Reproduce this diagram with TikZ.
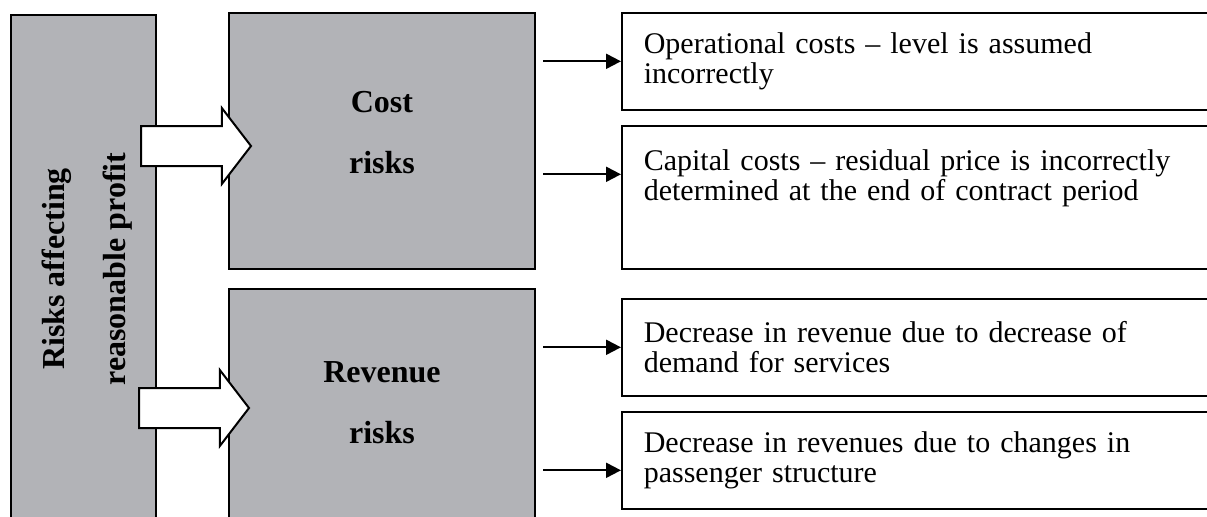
\documentclass[tikz,border=0pt]{standalone}
\usepackage{fontspec}
\setmainfont{Liberation Serif}
\usetikzlibrary{positioning,shapes.arrows,arrows.meta}
\definecolor{riskgray}{RGB}{178,179,183}

\tikzset{
  riskbox/.style={rectangle,draw,line width=1pt,fill=riskgray,anchor=north west,inner sep=0pt},
  risktext/.style={align=center,inner sep=0pt,font=\fontsize{16}{30.5}\selectfont\bfseries},
  effect/.style={rectangle,draw,line width=0.8pt,anchor=north west,align=left,text width=282pt,inner xsep=11pt,inner ysep=0pt,font=\fontsize{15}{15}\selectfont},
  bigarrow/.style={single arrow,draw,line width=1pt,fill=white,anchor=tail,minimum height=55pt,minimum width=0pt,single arrow head extend=9pt,single arrow tip angle=105,inner xsep=0pt,inner ysep=9.5pt},
  link/.style={-{Triangle[length=7.5pt,width=7.5pt]},line width=1pt}
}

\begin{document}
\begin{tikzpicture}[x=0.5pt,y=-0.5pt]
\useasboundingbox (0,0) rectangle (1207,516);
% risk groups
\node [riskbox,minimum width=72.5pt,minimum height=254pt] (risks) at (10,14) {};
\node [risktext,rotate=90] (risklabel) at ([xshift=1.75pt]risks.center) {Risks affecting\\reasonable profit};
\node [riskbox,minimum width=153pt,minimum height=128pt] (cost) at (228,12) {};
\node [risktext] (costlabel) at ([yshift=4pt]cost.center) {Cost\\risks};
\node [riskbox,minimum width=153pt,minimum height=116pt] (revenue) at (228,288) {};
\node [risktext] (revlabel) at ([yshift=1pt]revenue.center) {Revenue\\risks};
\node [bigarrow] (costarrow) at (140,146) {};
\node [bigarrow] (revarrow) at (138,408) {};
% effects
\node [effect,minimum height=48.5pt] (opcost) at (621,12) {Operational costs -- level is assumed\\incorrectly};
\node [effect,minimum height=71.5pt] (capcost) at (621,125) {Capital costs -- residual price is incorrectly\\determined at the end of contract period\\[7pt]\mbox{}};
\node [effect,minimum height=48.5pt] (demand) at (621,298) {Decrease in revenue due to decrease of\\demand for services};
\node [effect,minimum height=48.5pt] (passenger) at (621,411) {Decrease in revenues due to changes in\\passenger structure};
\coordinate (costout) at ([xshift=3.5pt]cost.east);
\coordinate (revout) at ([xshift=3.5pt]revenue.east);
\coordinate (capin) at ([yshift=11.5pt]capcost.west);
\coordinate (passin) at ([yshift=-5pt]passenger.west);
\draw [link] (costout |- opcost.west) -- (opcost.west);
\draw [link] (costout |- capin) -- (capin);
\draw [link] (revout |- demand.west) -- (demand.west);
\draw [link] (revout |- passin) -- (passin);
\end{tikzpicture}
\end{document}
